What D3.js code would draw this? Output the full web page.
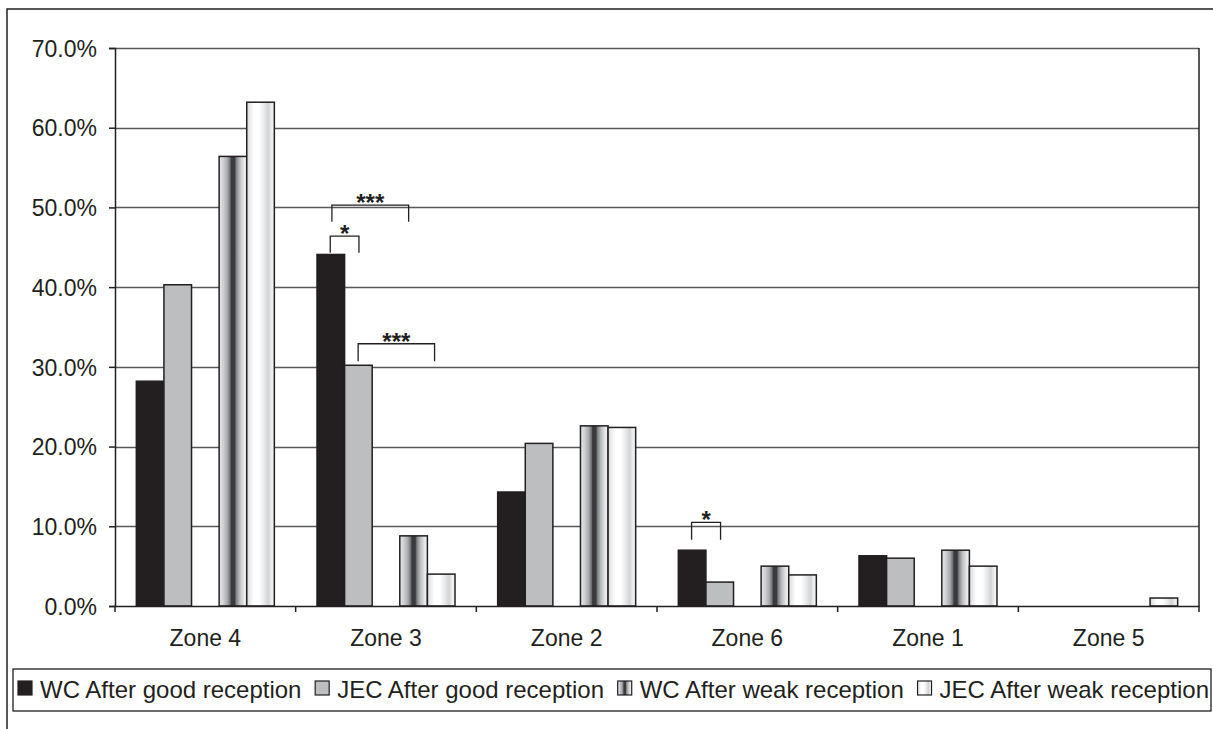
<!DOCTYPE html>
<html><head><meta charset="utf-8">
<script src="https://cdn.jsdelivr.net/npm/d3@7"></script>
<style>
html,body{margin:0;padding:0;background:#fff;}
svg text{font-family:"Liberation Sans",Arial,sans-serif;fill:#231f20;}
</style></head>
<body>
<svg id="chart" width="1213" height="729"></svg>
<script>
const categories = ["Zone 4","Zone 3","Zone 2","Zone 6","Zone 1","Zone 5"];
const seriesNames = ["WC After good reception","JEC After good reception","WC After weak reception","JEC After weak reception"];
const wcGood  = [28.2, 44.1, 14.3, 7.0, 6.3, 0];
const jecGood = [40.3, 30.2, 20.4, 3.0, 6.0, 0];
const wcWeak  = [56.4, 8.8, 22.6, 5.0, 7.0, 0];
const jecWeak = [63.2, 4.0, 22.4, 3.9, 5.0, 1.0];
const yTicks = [0,10,20,30,40,50,60,70];
// significance brackets: category, start/end (in bar-slot units), top value, leg bottom value, label
const brackets = [
  {cat:"Zone 3", from:0.48, to:1.52, top:46.4, bottom:44.3, label:"*"},
  {cat:"Zone 3", from:0.54, to:3.32, top:50.3, bottom:48.2, label:"***"},
  {cat:"Zone 3", from:1.49, to:4.26, top:32.9, bottom:30.7, label:"***"},
  {cat:"Zone 6", from:0.48, to:1.53, top:10.5, bottom:8.3, label:"*"}
];

const seriesValues = [wcGood, jecGood, wcWeak, jecWeak];
const slotOf = [0,1,3,4];
const ink = "#231f20";

const svg = d3.select("#chart");
const defs = svg.append("defs");
function grad(id, stops){
  const g = defs.append("linearGradient").attr("id",id).attr("x1","0%").attr("x2","100%").attr("y1","0%").attr("y2","0%");
  stops.forEach(s=>g.append("stop").attr("offset",s[0]).attr("stop-color",s[1]));
}
grad("wcWeak",[["0%","#e6e7e8"],["15%","#cfd0d2"],["30%","#a7a9ac"],["40%","#6d6e71"],["44%","#3a3a3c"],["56%","#3a3a3c"],["62%","#808285"],["75%","#bcbec0"],["90%","#e6e7e8"],["100%","#f4f4f4"]]);
grad("jecWeak",[["0%","#d9dadb"],["25%","#ffffff"],["45%","#ffffff"],["65%","#e6e7e8"],["78%","#d1d3d4"],["90%","#eeeeee"],["100%","#f6f6f6"]]);
const fills = ["#231f20","#bcbec0","url(#wcWeak)","url(#jecWeak)"];

// outer frame
svg.append("rect").attr("x",7).attr("y",9).attr("width",1230).attr("height",740)
  .attr("fill","none").attr("stroke",ink).attr("stroke-width",1.5);

const L=115, R=1199, T=48, B=606;
const x0 = d3.scaleBand().domain(categories).range([L,R]).paddingInner(0).paddingOuter(0);
const x1 = d3.scaleBand().domain([0,1,2,3,4]).range([0,x0.bandwidth()]).paddingInner(0).paddingOuter(0.773);
const y = d3.scaleLinear().domain([0,70]).range([B,T]);

// gridlines
svg.append("g").selectAll("line").data(yTicks.filter(t=>t>0)).join("line")
  .attr("x1",L).attr("x2",R).attr("y1",d=>Math.round(y(d))+0.5).attr("y2",d=>Math.round(y(d))+0.5)
  .attr("stroke","#58595b").attr("stroke-width",1.3);
// right border of plot
svg.append("line").attr("x1",R).attr("x2",R).attr("y1",T).attr("y2",B).attr("stroke",ink).attr("stroke-width",1.5);

// bars
seriesValues.forEach((vals,si)=>{
  svg.append("g").selectAll("rect").data(categories.map((c,i)=>({c,v:vals[i]})).filter(d=>d.v>0)).join("rect")
    .attr("x",d=>x0(d.c)+x1(slotOf[si]))
    .attr("width",x1.bandwidth())
    .attr("y",d=>y(d.v))
    .attr("height",d=>y(0)-y(d.v))
    .attr("fill",fills[si]).attr("stroke",ink).attr("stroke-width",1.5);
});

// y axis
const yAxis = d3.axisLeft(y).tickValues(yTicks).tickSize(6).tickPadding(6).tickFormat(d=>d.toFixed(1)+"%");
const gy = svg.append("g").attr("transform",`translate(${L},0)`).call(yAxis);
gy.select(".domain").attr("stroke",ink).attr("stroke-width",1.5);
gy.selectAll(".tick line").attr("stroke",ink).attr("stroke-width",1.5);
gy.selectAll(".tick text").attr("font-size",23).attr("fill",ink).attr("x",-18).attr("dy","0.36em")
  .style("font-family","'Liberation Sans',Arial,sans-serif");

// x axis
const xAxis = d3.axisBottom(x0).tickSize(0).tickPadding(0);
const gx = svg.append("g").attr("transform",`translate(0,${B})`).call(xAxis);
gx.select(".domain").attr("stroke",ink).attr("stroke-width",1.5);
gx.selectAll(".tick text").attr("font-size",23).attr("fill",ink).attr("y",40).attr("dy",0)
  .style("font-family","'Liberation Sans',Arial,sans-serif");
// category boundary ticks
svg.append("g").selectAll("line").data(categories.map(c=>x0(c)).concat([R])).join("line")
  .attr("x1",d=>d).attr("x2",d=>d).attr("y1",B).attr("y2",B+6).attr("stroke",ink).attr("stroke-width",1.5);

// brackets
const slotStep = x1.step();
const bg = svg.append("g");
brackets.forEach(b=>{
  const xa = x0(b.cat)+x1(0)+b.from*slotStep, xb = x0(b.cat)+x1(0)+b.to*slotStep;
  const yt = y(b.top), yb = y(b.bottom);
  bg.append("path").attr("d",`M${xa},${yb}V${yt}H${xb}V${yb}`).attr("fill","none").attr("stroke",ink).attr("stroke-width",1.3);
  bg.append("text").attr("x",(xa+xb)/2).attr("y",yt+6).attr("text-anchor","middle").attr("font-size",24).attr("font-weight","bold").text(b.label);
});

// legend
svg.append("rect").attr("x",13).attr("y",669).attr("width",1198).attr("height",42)
  .attr("fill","none").attr("stroke",ink).attr("stroke-width",1.3);
const lg = svg.append("g");
const texts = seriesNames.map(n=>lg.append("text").attr("font-size",24).attr("y",698).text(n));
const widths = texts.map(t=>t.node().getComputedTextLength());
const symW = 14, symGap = 8;
const startX = 18, endX = 1209;
const total = widths.reduce((a,b)=>a+b,0) + 4*(symW+symGap);
const gap = (endX-startX-total)/3;
let cx = startX;
seriesNames.forEach((n,i)=>{
  lg.append("rect").attr("x",cx).attr("y",681).attr("width",symW).attr("height",symW)
    .attr("fill",fills[i]).attr("stroke",ink).attr("stroke-width",1.2);
  texts[i].attr("x",cx+symW+symGap);
  cx += symW+symGap+widths[i]+gap;
});
</script>
</body></html>
